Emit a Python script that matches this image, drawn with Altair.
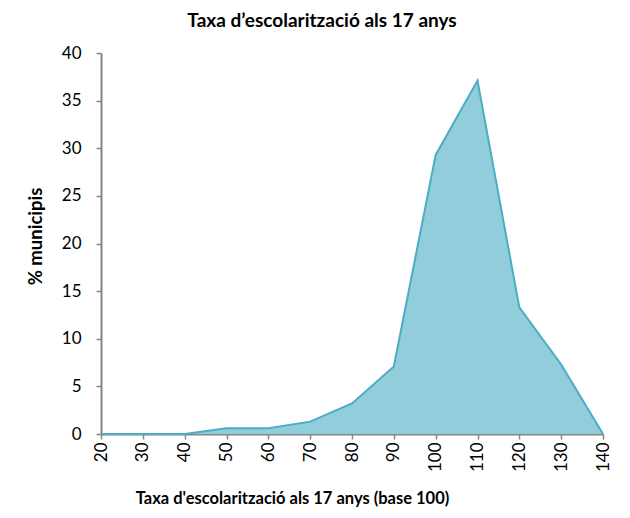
import altair as alt
import pandas as pd

x_vals = [20, 30, 40, 50, 60, 70, 80, 90, 100, 110, 120, 130, 140]
pct_municipis = [0, 0, 0, 0.6, 0.6, 1.3, 3.2, 7.1, 29.3, 37.1, 13.3, 7.3, 0]
x_ticks = [20, 30, 40, 50, 60, 70, 80, 90, 100, 110, 120, 130, 140]
y_ticks = [0, 5, 10, 15, 20, 25, 30, 35, 40]

df = pd.DataFrame({"x": x_vals, "y": pct_municipis})

FONT = "Lato"
AXIS_COLOR = "#868686"

x_enc = alt.X(
    "x:Q",
    scale=alt.Scale(domain=[20, 140], nice=False),
    axis=alt.Axis(
        values=x_ticks,
        title="Taxa d'escolarització als 17 anys (base 100)",
        titleFont=FONT, titleFontSize=16.5, titleFontWeight="bold", titleColor="#000000",
        titleX=191, titleY=69, titleBaseline="alphabetic", titleAnchor="middle",
        labelFont=FONT, labelFontSize=17, labelColor="#000000",
        labelAngle=-90, labelAlign="right", labelBaseline="middle", labelPadding=3,
        domainColor=AXIS_COLOR, domainWidth=2, tickColor=AXIS_COLOR, tickSize=5, tickWidth=1.5,
        grid=False, labelOverlap=False, labelFlush=False,
    ),
)
y_enc = alt.Y(
    "y:Q",
    scale=alt.Scale(domain=[0, 40], nice=False),
    axis=alt.Axis(
        values=y_ticks,
        title="% municipis",
        titleFont=FONT, titleFontSize=18.5, titleFontWeight="bold", titleColor="#000000",
        titleX=-66, titleY=183, titleAngle=-90, titleAlign="center", titleBaseline="middle",
        labelFont=FONT, labelFontSize=17, labelColor="#000000", labelPadding=15,
        domainColor=AXIS_COLOR, domainWidth=2, tickColor=AXIS_COLOR, tickSize=5, tickWidth=1.5,
        grid=False, labelFlush=False,
    ),
)

area = alt.Chart(df).mark_area(
    color="#92CDDC", line={"color": "#4BACC6", "strokeWidth": 2}, opacity=1
).encode(x=x_enc, y=y_enc)

chart = area.properties(
    width=502,
    height=381,
    autosize=alt.AutoSizeParams(type="none"),
    padding={"left": 93, "top": 45, "right": 17, "bottom": 74},
    title=alt.TitleParams(
        "Taxa d’escolarització als 17 anys",
        font=FONT, fontSize=19, fontWeight="bold", color="#000000",
        anchor="middle", dx=-30, offset=-2, baseline="alphabetic",
    ),
).configure_view(stroke=None)

chart.save("out.html", embed_options={"renderer": "svg", "actions": False})
